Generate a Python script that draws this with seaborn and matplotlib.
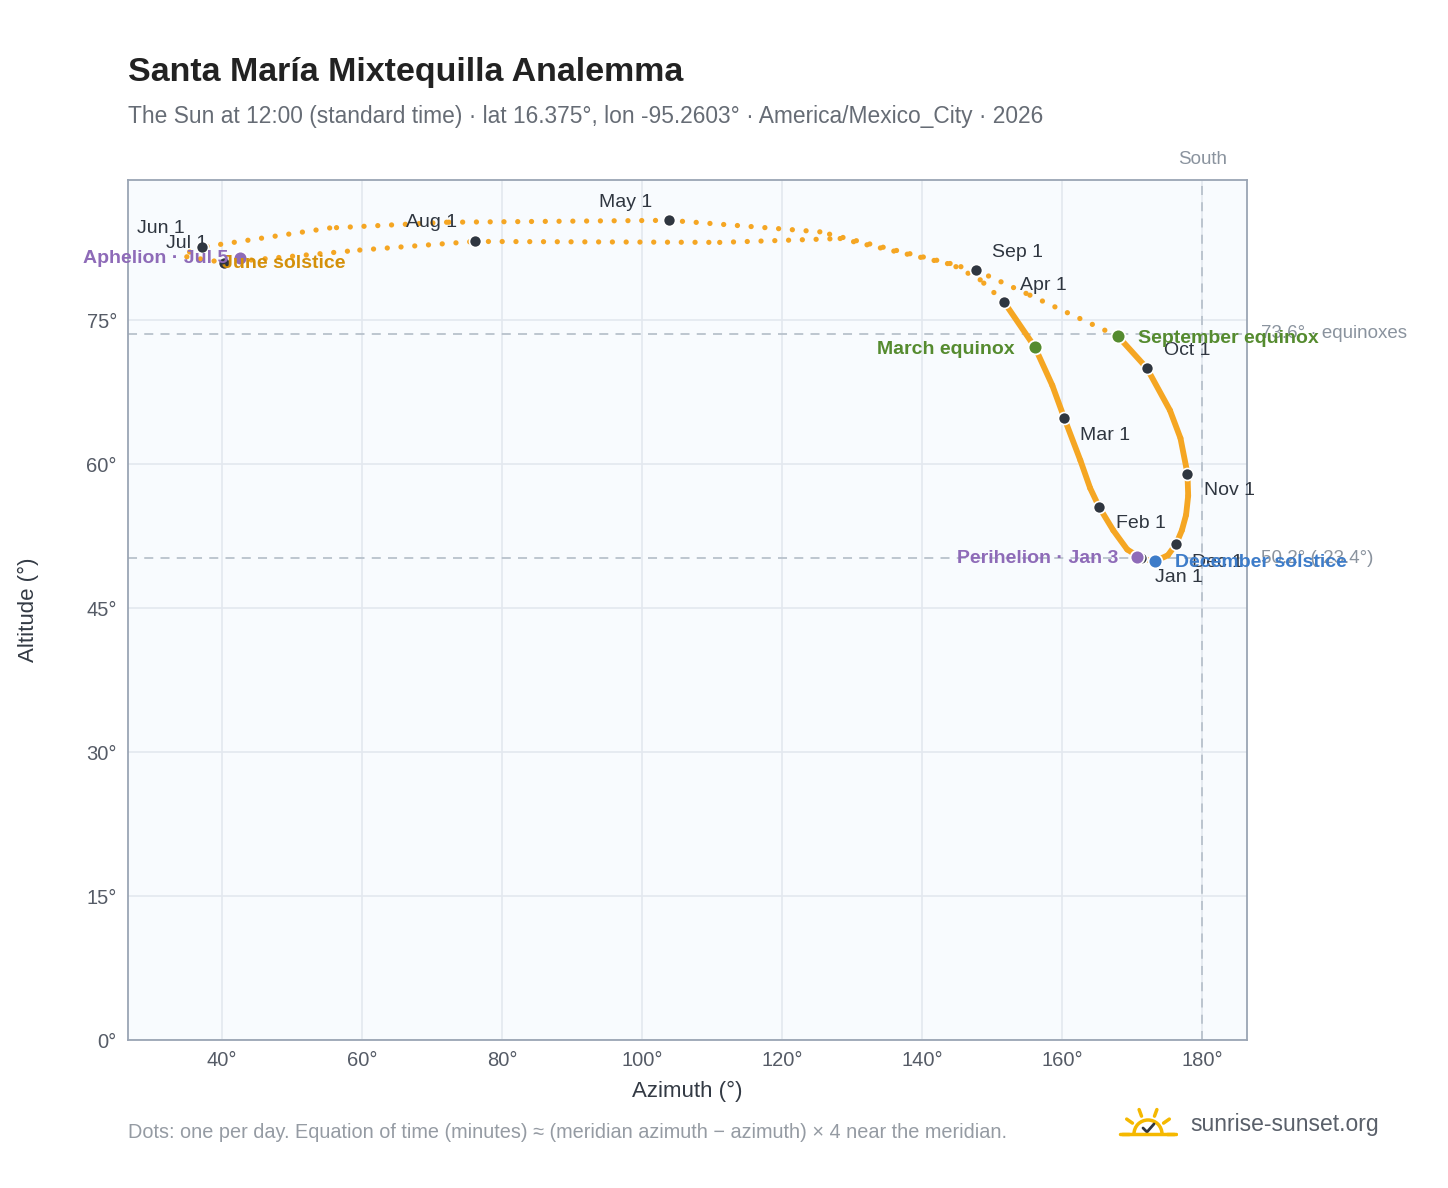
import numpy as np
import pandas as pd
import matplotlib
matplotlib.use("Agg")
import matplotlib.pyplot as plt
import seaborn as sns
from matplotlib.patches import Arc

# ---- data ----
path_dates = ["Jan 1","Jan 10","Jan 20","Feb 1","Feb 10","Feb 18","Mar 1","Mar 10","Mar 20","Apr 1",
              "Apr 8","Apr 15","Apr 22","May 1","May 15","May 22","Jun 1","Jun 10","Jun 21","Jul 1",
              "Jul 15","Aug 1","Aug 15","Aug 22","Sep 1","Sep 10","Sep 22","Oct 1","Oct 15","Oct 22",
              "Nov 1","Nov 8","Nov 15","Nov 22","Dec 1","Dec 10","Dec 21","Dec 31"]
path_az = [171.3,169.3,167.3,165.3,164.0,162.6,160.3,158.6,156.1,151.7,
           148.3,144.0,125.4,103.9,72.1,55.4,37.1,35.4,35.0,40.3,
           59.7,76.1,111.1,128.3,147.7,155.4,168.0,172.1,175.4,176.9,
           177.9,178.0,177.7,177.1,176.3,175.1,173.3,171.6]
path_alt = [50.2,51.1,53.1,55.5,57.5,60.4,64.8,68.2,72.2,76.9,
            79.2,80.9,84.2,85.4,85.2,84.6,82.6,82.1,81.6,81.0,
            82.3,83.2,83.1,83.5,80.2,77.6,73.3,70.0,65.6,62.7,
            59.0,56.7,54.7,53.1,51.7,50.5,49.9,50.1]
dense = [1,1,1,1,1,1,1,1,1,1,
         0,0,0,0,0,0,0,0,0,0,
         0,0,0,0,0,0,1,1,1,1,
         1,1,1,1,1,1,1,1]

month_labels = ["Jan 1","Feb 1","Mar 1","Apr 1","May 1","Jun 1","Jul 1","Aug 1","Sep 1","Oct 1","Nov 1","Dec 1"]
month_az = [171.3,165.3,160.3,151.7,103.9,37.1,40.3,76.1,147.7,172.1,177.9,176.3]
month_alt = [50.2,55.5,64.8,76.9,85.4,82.6,81.0,83.2,80.2,70.0,59.0,51.7]
month_off = [(14,-19,"left"),(17,-16,"left"),(16,-17,"left"),(16,16,"left"),(-17,18,"right"),
             (-17,19,"right"),(-17,19,"right"),(-17,19,"right"),(16,18,"left"),(17,18,"left"),
             (17,-17,"left"),(16,-19,"left")]

special_labels = ["March equinox","September equinox","June solstice","December solstice",
                  "Aphelion · Jul 5","Perihelion · Jan 3"]
special_az = [156.1,168.0,35.0,173.3,42.6,170.7]
special_alt = [72.2,73.3,81.7,49.9,81.5,50.3]
special_col = ["#558b2f","#558b2f","#d4900a","#3d7cc9","#8e6bb8","#8e6bb8"]
special_off = [(-20,-2,"right"),(20,-2,"left"),(35,-8,"left"),(20,-1,"left"),(-12,-1,"right"),(-19,-1,"right")]
special_show_dot = [1,1,0,1,1,1]

equinox_alt = 73.6
solstice_alt = 50.2
meridian_az = 180

# ---- figure ----
sns.set_theme(style="white")
plt.rcParams['font.family'] = ['Liberation Sans', 'DejaVu Sans']
fig = plt.figure(figsize=(14.48, 11.88), dpi=100)
ax = fig.add_axes([128/1448, 1-1040/1188, (1247-128)/1448, (1040-180)/1188])
ax.set_facecolor("#f8fbfe")
ax.set_xlim(26.6, 186.4)
ax.set_ylim(0, 89.6)
ax.set_xticks(range(40, 181, 20))
ax.set_xticklabels([f"{v}°" for v in range(40, 181, 20)])
ax.set_yticks(range(0, 76, 15))
ax.set_yticklabels([f"{v}°" for v in range(0, 76, 15)])
ax.grid(True, color="#e3e8ef", linewidth=1.2)
for s in ax.spines.values():
    s.set_color("#9aa5b4"); s.set_linewidth(1.3)
ax.tick_params(colors="#555b66", labelsize=14.5, length=0, pad=8)
ax.set_xlabel("Azimuth (°)", fontsize=16, color="#333a44", labelpad=8)
ax.set_ylabel("Altitude (°)", fontsize=16, color="#333a44", labelpad=34)

# reference lines
ax.axhline(equinox_alt, color="#b8c2cc", ls=(0,(5,4)), lw=1.3, zorder=1)
ax.axhline(solstice_alt, color="#b8c2cc", ls=(0,(5,4)), lw=1.3, zorder=1)
ax.axvline(meridian_az, color="#b8c2cc", ls=(0,(5,4)), lw=1.3, zorder=1)
ax.text(meridian_az, 90.8, "South", ha="center", va="bottom", color="#8a939e", fontsize=13.5)
ax.annotate(f"{equinox_alt}° · equinoxes", (186.4, equinox_alt), xytext=(14,0), textcoords="offset pixels",
            ha="left", va="center", color="#8a939e", fontsize=13.5, annotation_clip=False)
ax.annotate(f"{solstice_alt}° (-23.4°)", (186.4, solstice_alt), xytext=(14,0), textcoords="offset pixels",
            ha="left", va="center", color="#8a939e", fontsize=13.5, annotation_clip=False)

# analemma path
df = pd.DataFrame({"az": path_az, "alt": path_alt, "dense": dense, "order": range(len(path_az))})
for i in range(len(df) - 1):
    seg = df.iloc[i:i+2]
    d = seg["dense"].min()
    if d:
        sns.lineplot(data=seg, x="az", y="alt", sort=False, ax=ax, color="#f5a623", lw=4.2,
                     solid_capstyle="round", zorder=3)
    else:
        ax.plot(seg["az"], seg["alt"], color="#f5a623", lw=3.8, ls=(0,(0.01,2.6)),
                dash_capstyle="round", zorder=3)

# month markers
sns.scatterplot(x=month_az, y=month_alt, ax=ax, color="#2f3640", s=75, edgecolor="white",
                linewidth=1.2, zorder=5)
for lab, x, y, (dx, dy, ha) in zip(month_labels, month_az, month_alt, month_off):
    ax.annotate(lab, (x, y), xytext=(dx, dy), textcoords="offset pixels", ha=ha, va="center",
                color="#2f3640", fontsize=14, zorder=6)

# special markers
for lab, x, y, c, (dx, dy, ha), show in zip(special_labels, special_az, special_alt, special_col,
                                            special_off, special_show_dot):
    if show:
        ax.scatter([x], [y], color=c, s=100, edgecolor="white", linewidth=1.3, zorder=6)
    ax.annotate(lab, (x, y), xytext=(dx, dy), textcoords="offset pixels", ha=ha, va="center",
                color=c, fontsize=14, fontweight="bold", zorder=7)

# titles
fig.text(128/1448, 1-72/1188, "Santa María Mixtequilla Analemma", fontsize=24.5, fontweight="bold",
         color="#222222", va="center")
fig.text(128/1448, 1-116/1188,
         "The Sun at 12:00 (standard time) · lat 16.375°, lon -95.2603° · America/Mexico_City · 2026",
         fontsize=16.4, color="#666c75", va="center")
fig.text(128/1448, 1-1133/1188,
         "Dots: one per day. Equation of time (minutes) ≈ (meridian azimuth − azimuth) × 4 near the meridian.",
         fontsize=14.3, color="#959ba3", va="center")
fig.text(1190/1448, 1-1125/1188, "sunrise-sunset.org", fontsize=16.5, color="#5a606a", va="center")

# small sun logo
lax = fig.add_axes([1118/1448, 1-1140/1188, 60/1448, 40/1188])
lax.set_xlim(-1.5, 1.5); lax.set_ylim(-0.3, 1.7); lax.axis("off")
lax.add_patch(Arc((0, 0), 1.4, 1.4, theta1=0, theta2=180, color="#f5b800", lw=2.5))
for a in np.deg2rad([0, 35, 70, 110, 145, 180]):
    lax.plot([0.95*np.cos(a), 1.3*np.cos(a)], [0.95*np.sin(a), 1.3*np.sin(a)], color="#f5b800", lw=2.5)
lax.plot([-0.25, -0.05, 0.3], [0.3, 0.1, 0.5], color="#2f3640", lw=2)
lax.plot([-1.4, 1.4], [0, 0], color="#f5b800", lw=2.5)

fig.savefig("out.png", dpi=100)
